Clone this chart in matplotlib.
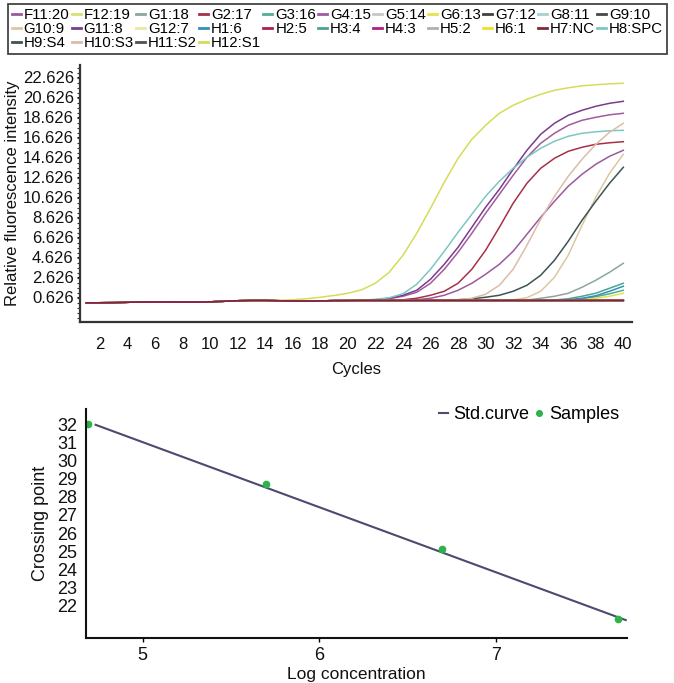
import numpy as np
import matplotlib
matplotlib.use("Agg")
import matplotlib.pyplot as plt
from matplotlib import font_manager
from matplotlib.ticker import MultipleLocator

plt.rcParams['font.family'] = ['Liberation Sans', 'DejaVu Sans']
_names = {f.name for f in font_manager.fontManager.ttflist}
NARROW = 'Liberation Sans Narrow' if 'Liberation Sans Narrow' in _names else 'Liberation Sans'

# ---------------- data: amplification curves ----------------
cycles = list(range(1, 41))

baseline = [0.05, 0.05, 0.06, 0.10, 0.12, 0.13, 0.13, 0.12, 0.12, 0.14,
            0.20, 0.25, 0.28, 0.28, 0.25, 0.22, 0.22, 0.24, 0.26, 0.27,
            0.28, 0.28, 0.28, 0.28, 0.28, 0.28, 0.28, 0.28, 0.28, 0.28,
            0.28, 0.28, 0.28, 0.28, 0.28, 0.28, 0.28, 0.28, 0.28, 0.28]

h12_s1 = baseline[:14] + [0.30, 0.35, 0.45, 0.60, 0.78, 1.0, 1.35, 2.0, 3.1, 4.8,
                          7.0, 9.5, 12.1, 14.5, 16.4, 17.8, 19.0, 19.8, 20.4, 20.9,
                          21.3, 21.55, 21.75, 21.85, 21.95, 22.0]
h8_spc = baseline[:20] + [0.30, 0.40, 0.55, 0.95, 1.9, 3.4, 5.2, 7.1, 8.9, 10.7,
                          12.2, 13.5, 14.6, 15.5, 16.2, 16.7, 17.0, 17.15, 17.25, 17.3]
g11_8 = baseline[:21] + [0.35, 0.50, 0.80, 1.3, 2.4, 3.9, 5.6, 7.6, 9.6, 11.4,
                         13.4, 15.3, 16.9, 18.0, 18.8, 19.3, 19.7, 20.0, 20.2]
g4_15 = baseline[:21] + [0.33, 0.45, 0.70, 1.1, 2.0, 3.4, 5.1, 7.0, 9.0, 10.9,
                         12.8, 14.6, 16.0, 17.0, 17.8, 18.3, 18.6, 18.85, 19.0]
g2_17 = baseline[:23] + [0.35, 0.50, 0.80, 1.2, 2.0, 3.4, 5.3, 7.6, 10.0, 12.0,
                         13.5, 14.5, 15.2, 15.6, 15.9, 16.05, 16.16]
f11_20 = baseline[:24] + [0.35, 0.50, 0.80, 1.3, 2.0, 2.9, 3.9, 5.2, 6.9, 8.6,
                          10.2, 11.7, 12.9, 13.9, 14.7, 15.3]
h10_s3 = baseline[:27] + [0.35, 0.50, 0.90, 1.8, 3.4, 5.8, 8.4, 10.7, 12.7, 14.4,
                          15.9, 17.1, 18.0]
g10_9 = baseline[:31] + [0.35, 0.55, 1.2, 2.6, 4.8, 7.8, 10.6, 13.0, 14.9]
h9_s4 = baseline[:27] + [0.35, 0.45, 0.60, 0.80, 1.2, 1.8, 2.8, 4.3, 6.2, 8.3,
                         10.2, 12.0, 13.6]
g1_18 = baseline[:32] + [0.33, 0.50, 0.70, 1.0, 1.6, 2.3, 3.1, 4.0]
h3_4 = baseline[:34] + [0.33, 0.45, 0.70, 1.0, 1.5, 2.0]
h1_6 = baseline[:35] + [0.35, 0.50, 0.75, 1.2, 1.7]
g3_16 = baseline[:35] + [0.33, 0.45, 0.65, 0.95, 1.3]
g6_13 = baseline[:36] + [0.33, 0.50, 0.70, 1.0]
flat = baseline

legend_labels = ['F11:20', 'F12:19', 'G1:18', 'G2:17', 'G3:16', 'G4:15', 'G5:14',
                 'G6:13', 'G7:12', 'G8:11', 'G9:10', 'G10:9', 'G11:8', 'G12:7',
                 'H1:6', 'H2:5', 'H3:4', 'H4:3', 'H5:2', 'H6:1', 'H7:NC', 'H8:SPC',
                 'H9:S4', 'H10:S3', 'H11:S2', 'H12:S1']
legend_colors = ['#9a5a9c', '#d8e070', '#8aa6a0', '#a83048', '#4fae98', '#a25a9e',
                 '#c8c8c8', '#e4e44c', '#404040', '#a8d0d0', '#484848', '#dcc8a0',
                 '#7a3d8e', '#e8e8a0', '#3390b2', '#b02048', '#4aa494', '#b02080',
                 '#b0b0b0', '#f0e030', '#802838', '#7ec6c4', '#3c5454', '#dcbca8',
                 '#505050', '#d6dc58']
series = [f11_20, flat, g1_18, g2_17, g3_16, g4_15, flat, g6_13, flat, flat, flat,
          g10_9, g11_8, flat, h1_6, flat, h3_4, flat, flat, flat, flat, h8_spc,
          h9_s4, h10_s3, flat, h12_s1]

yticks_top = [0.626, 2.626, 4.626, 6.626, 8.626, 10.626, 12.626, 14.626,
              16.626, 18.626, 20.626, 22.626]
xticks_top = list(range(2, 41, 2))

# ---------------- data: standard curve ----------------
std_x = [4.734, 7.737]
std_y = [31.96, 21.21]
sample_x = [4.69, 5.70, 6.695, 7.695]
sample_y = [32.0, 28.7, 25.1, 21.25]
yticks_bot = list(range(22, 33))
xticks_bot = [5, 6, 7]

# ---------------- figure ----------------
fig = plt.figure(figsize=(6.74, 6.83), dpi=100)
ax1 = fig.add_axes([80/674, 1-322/683, (632-80)/674, (322-65)/683])

lines = {}
order_draw = [i for i, s in enumerate(series) if s is not flat] + \
             [i for i, s in enumerate(series) if s is flat and legend_labels[i] not in ('H4:3', 'H7:NC')] + \
             [legend_labels.index('H4:3'), legend_labels.index('H7:NC')]
for i in order_draw:
    ln, = ax1.plot(cycles, series[i], color=legend_colors[i], lw=1.1,
                   label=legend_labels[i], solid_joinstyle='round')
    lines[i] = ln

ax1.set_xlim(0.55, 40.63)
ax1.set_ylim(-1.874, 23.83)
ax1.set_xticks(xticks_top)
ax1.set_yticks(yticks_top)
ax1.set_yticklabels([f"{v:.3f}" for v in yticks_top])
ax1.yaxis.set_minor_locator(MultipleLocator(0.5))
ax1.tick_params(axis='x', length=0, pad=11, labelsize=12, colors='#111111')
ax1.tick_params(axis='y', which='major', length=2.5, width=0.8, pad=2,
                labelsize=12, colors='#111111')
ax1.tick_params(axis='y', which='minor', length=2.0, width=0.8, color='#333333')
for s in ('top', 'right'):
    ax1.spines[s].set_visible(False)
for s in ('left', 'bottom'):
    ax1.spines[s].set_color('#333333')
    ax1.spines[s].set_linewidth(1.6)
ax1.set_xlabel('Cycles', fontsize=12, labelpad=7, color='#111111')
ax1.set_ylabel('Relative fluorescence intensity', fontsize=12, labelpad=2,
               color='#111111')

# legend (row-major order into 11 columns)
ncol = 11
n = len(legend_labels)
leg_order = []
for c in range(ncol):
    for r in range(3):
        k = r * ncol + c
        if k < n:
            leg_order.append(k)
leg = fig.legend([lines[k] for k in leg_order], [legend_labels[k] for k in leg_order],
                 loc='upper left', bbox_to_anchor=(8/674, 1-4/683, 659/674, 0),
                 mode='expand', ncol=ncol, fontsize=10.8, handlelength=0.6,
                 handletextpad=0.2, columnspacing=0.1, labelspacing=0.02,
                 borderpad=0.25, borderaxespad=0, frameon=True, fancybox=False,
                 edgecolor='#444444', framealpha=1)
leg.get_frame().set_linewidth(1.3)
for lh in leg.get_lines():
    lh.set_linewidth(2.0)

# ---------------- bottom: standard curve ----------------
ax2 = fig.add_axes([85.7/674, 1-637.7/683, (627.3-85.7)/674, (637.7-409)/683])
ax2.plot(std_x, std_y, color='#4b4b70', lw=1.5, label='Std.curve')
ax2.plot(sample_x, sample_y, 'o', ls='none', color='#2db34a', ms=4.5,
         label='Samples')
ax2.set_xlim(4.678, 7.746)
ax2.set_ylim(20.24, 32.83)
ax2.set_xticks(xticks_bot)
ax2.set_yticks(yticks_bot)
for lab in ax2.get_xticklabels() + ax2.get_yticklabels():
    lab.set_family(NARROW)
    lab.set_fontsize(13)
    lab.set_color('#111111')
ax2.tick_params(axis='y', length=0, pad=6)
ax2.tick_params(axis='x', length=3, width=1, pad=4)
for s in ('top', 'right'):
    ax2.spines[s].set_visible(False)
for s in ('left', 'bottom'):
    ax2.spines[s].set_color('#111111')
    ax2.spines[s].set_linewidth(1.5)
ax2.set_xlabel('Log concentration', family=NARROW, fontsize=12.5, labelpad=2,
               color='#111111')
ax2.set_ylabel('Crossing point', family=NARROW, fontsize=13, labelpad=6,
               color='#111111')
ax2.legend(loc='upper right', bbox_to_anchor=(1-8/541.6, 1.013), ncol=2,
           frameon=False, prop={'family': NARROW, 'size': 13}, handlelength=0.5,
           handletextpad=0.3, columnspacing=0.3, borderpad=0, borderaxespad=0,
           markerscale=0.9)

fig.savefig('out.png', dpi=100)
